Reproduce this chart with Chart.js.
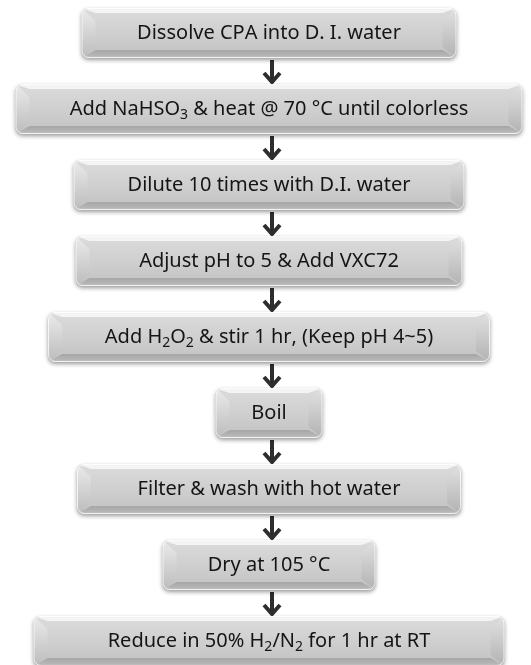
<!DOCTYPE html>
<html>
<head>
<meta charset="utf-8">
<script src="https://cdn.jsdelivr.net/npm/chart.js@4/dist/chart.umd.min.js"></script>
<style>
  html, body { margin:0; padding:0; background:#fff; }
  #flow { display:block; }
</style>
</head>
<body>
<canvas id="flow" width="531" height="665"></canvas>
<script>
// ── Flow steps (text, '_' marks a one-char subscript) ─────
const steps = [
  'Dissolve CPA into D. I. water',
  'Add NaHSO_3 & heat @ 70 \u00b0C until colorless',
  'Dilute 10 times with D.I. water',
  'Adjust pH to 5 & Add VXC72',
  'Add H_2O_2 & stir 1 hr, (Keep pH 4~5)',
  'Boil',
  'Filter & wash with hot water',
  'Dry at 105 \u00b0C',
  'Reduce in 50% H_2/N_2 for 1 hr at RT'
];
// box widths (px units of the x scale)
const widths = [375, 507, 391, 387, 442, 107, 384, 213, 471];
// step order = vertical position
const order  = [0, 1, 2, 3, 4, 5, 6, 7, 8];

// ── Bevelled box painter ──────────────────────────────────
function roundRect(ctx, x, y, w, h, r) {
  ctx.beginPath();
  ctx.moveTo(x + r, y);
  ctx.arcTo(x + w, y, x + w, y + h, r);
  ctx.arcTo(x + w, y + h, x, y + h, r);
  ctx.arcTo(x, y + h, x, y, r);
  ctx.arcTo(x, y, x + w, y, r);
  ctx.closePath();
}

function poly(ctx, pts, fill) {
  ctx.beginPath();
  ctx.moveTo(pts[0][0], pts[0][1]);
  for (let i = 1; i < pts.length; i++) ctx.lineTo(pts[i][0], pts[i][1]);
  ctx.closePath();
  ctx.fillStyle = fill;
  ctx.fill();
}

function bevelBox(ctx, x0, y0, x1, y1) {
  const w = x1 - x0, h = y1 - y0;
  const l = 14, t = 5, b = 8, s = 13;
  ctx.save();
  ctx.shadowColor = 'rgba(0,0,0,0.4)';
  ctx.shadowBlur = 4;
  ctx.shadowOffsetY = 2;
  roundRect(ctx, x0, y0, w, h, 7);
  ctx.fillStyle = '#b0b0b0';
  ctx.fill();
  ctx.restore();

  ctx.save();
  roundRect(ctx, x0, y0, w, h, 7);
  ctx.clip();
  // face (full, bevels painted over it)
  let g = ctx.createLinearGradient(0, y0, 0, y1);
  g.addColorStop(0, '#dcdcdc'); g.addColorStop(1, '#c2c2c2');
  ctx.fillStyle = g;
  ctx.fillRect(x0, y0, w, h);
  // top band
  poly(ctx, [[x0, y0], [x1, y0], [x1 - l, y0 + t], [x0 + l, y0 + t]], '#f4f4f4');
  // left / right bevels
  g = ctx.createLinearGradient(0, y0, 0, y1);
  g.addColorStop(0, '#ebebeb'); g.addColorStop(1, '#bcbcbc');
  poly(ctx, [[x0, y0], [x0 + l, y0 + s], [x0 + l, y1 - b - 3], [x0, y1]], g);
  g = ctx.createLinearGradient(0, y0, 0, y1);
  g.addColorStop(0, '#e2e2e2'); g.addColorStop(1, '#b2b2b2');
  poly(ctx, [[x1, y0], [x1 - l, y0 + s], [x1 - l, y1 - b - 3], [x1, y1]], g);
  // bottom band
  g = ctx.createLinearGradient(0, y1 - b, 0, y1);
  g.addColorStop(0, '#a6a6a6'); g.addColorStop(0.8, '#b8b8b8'); g.addColorStop(1, '#dedede');
  poly(ctx, [[x0, y1], [x0 + l, y1 - b], [x1 - l, y1 - b], [x1, y1]], g);
  ctx.restore();

  ctx.save();
  roundRect(ctx, x0 + 0.5, y0 + 0.5, w - 1, h - 1, 7);
  ctx.strokeStyle = 'rgba(255,255,255,0.75)';
  ctx.lineWidth = 1;
  ctx.stroke();
  ctx.restore();
}

// text with '_' one-char subscripts, centred at cx
const FONT = 20, SUB = 14;
function richText(ctx, str, cx, cy) {
  const segs = [];
  for (let i = 0; i < str.length; i++) {
    if (str[i] === '_' && i + 1 < str.length) { segs.push({ t: str[i + 1], sub: true }); i++; }
    else segs.push({ t: str[i], sub: false });
  }
  const fMain = FONT + 'px "Noto Sans", sans-serif';
  const fSub  = SUB + 'px "Noto Sans", sans-serif';
  let total = 0;
  segs.forEach(s => { ctx.font = s.sub ? fSub : fMain; s.w = ctx.measureText(s.t).width; total += s.w; });
  let x = cx - total / 2;
  ctx.fillStyle = '#151515';
  ctx.textBaseline = 'alphabetic';
  ctx.textAlign = 'left';
  segs.forEach(s => {
    ctx.font = s.sub ? fSub : fMain;
    ctx.fillText(s.t, x, cy + 6 + (s.sub ? 4 : 0));
    x += s.w;
  });
}

function arrow(ctx, x, yTop, yTip) {
  ctx.save();
  ctx.strokeStyle = '#2e2e2e';
  ctx.lineWidth = 4;
  ctx.lineCap = 'butt';
  ctx.beginPath();
  ctx.moveTo(x, yTop);
  ctx.lineTo(x, yTip - 3);
  ctx.stroke();
  ctx.lineJoin = 'miter';
  ctx.beginPath();
  ctx.moveTo(x - 8, yTip - 11);
  ctx.lineTo(x, yTip - 2);
  ctx.lineTo(x + 8, yTip - 11);
  ctx.stroke();
  ctx.restore();
}

const flowPlugin = {
  id: 'flowBoxes',
  afterDatasetsDraw(chart) {
    const ctx = chart.ctx;
    const meta = chart.getDatasetMeta(0);
    const xs = chart.scales.x;
    const ax = xs.getPixelForValue(3);
    const rects = meta.data.map(el => {
      const p = el.getProps(['x', 'y', 'base', 'height'], true);
      return { x0: Math.min(p.base, p.x), x1: Math.max(p.base, p.x), y0: p.y - p.height / 2, y1: p.y + p.height / 2, cy: p.y };
    });
    for (let i = 0; i < rects.length - 1; i++) {
      arrow(ctx, ax, rects[i].y1 + 2, rects[i + 1].y0);
    }
    rects.forEach((r, i) => {
      bevelBox(ctx, r.x0, r.y0, r.x1, r.y1);
      richText(ctx, steps[i], (r.x0 + r.x1) / 2, r.cy);
    });
  }
};

new Chart(document.getElementById('flow'), {
  type: 'bar',
  data: {
    datasets: [{
      data: order.map((o, i) => ({ x: [-widths[i] / 2, widths[i] / 2], y: o })),
      backgroundColor: 'rgba(0,0,0,0)',
      borderWidth: 0,
      barThickness: 50
    }]
  },
  options: {
    indexAxis: 'y',
    responsive: false,
    animation: false,
    events: [],
    layout: { padding: 0 },
    scales: {
      x: { type: 'linear', min: -269, max: 262, display: false, offset: false },
      y: { type: 'linear', min: -0.434, max: 8.316, reverse: true, display: false, offset: false }
    },
    plugins: { legend: { display: false }, tooltip: { enabled: false } }
  },
  plugins: [flowPlugin]
});
</script>
</body>
</html>
